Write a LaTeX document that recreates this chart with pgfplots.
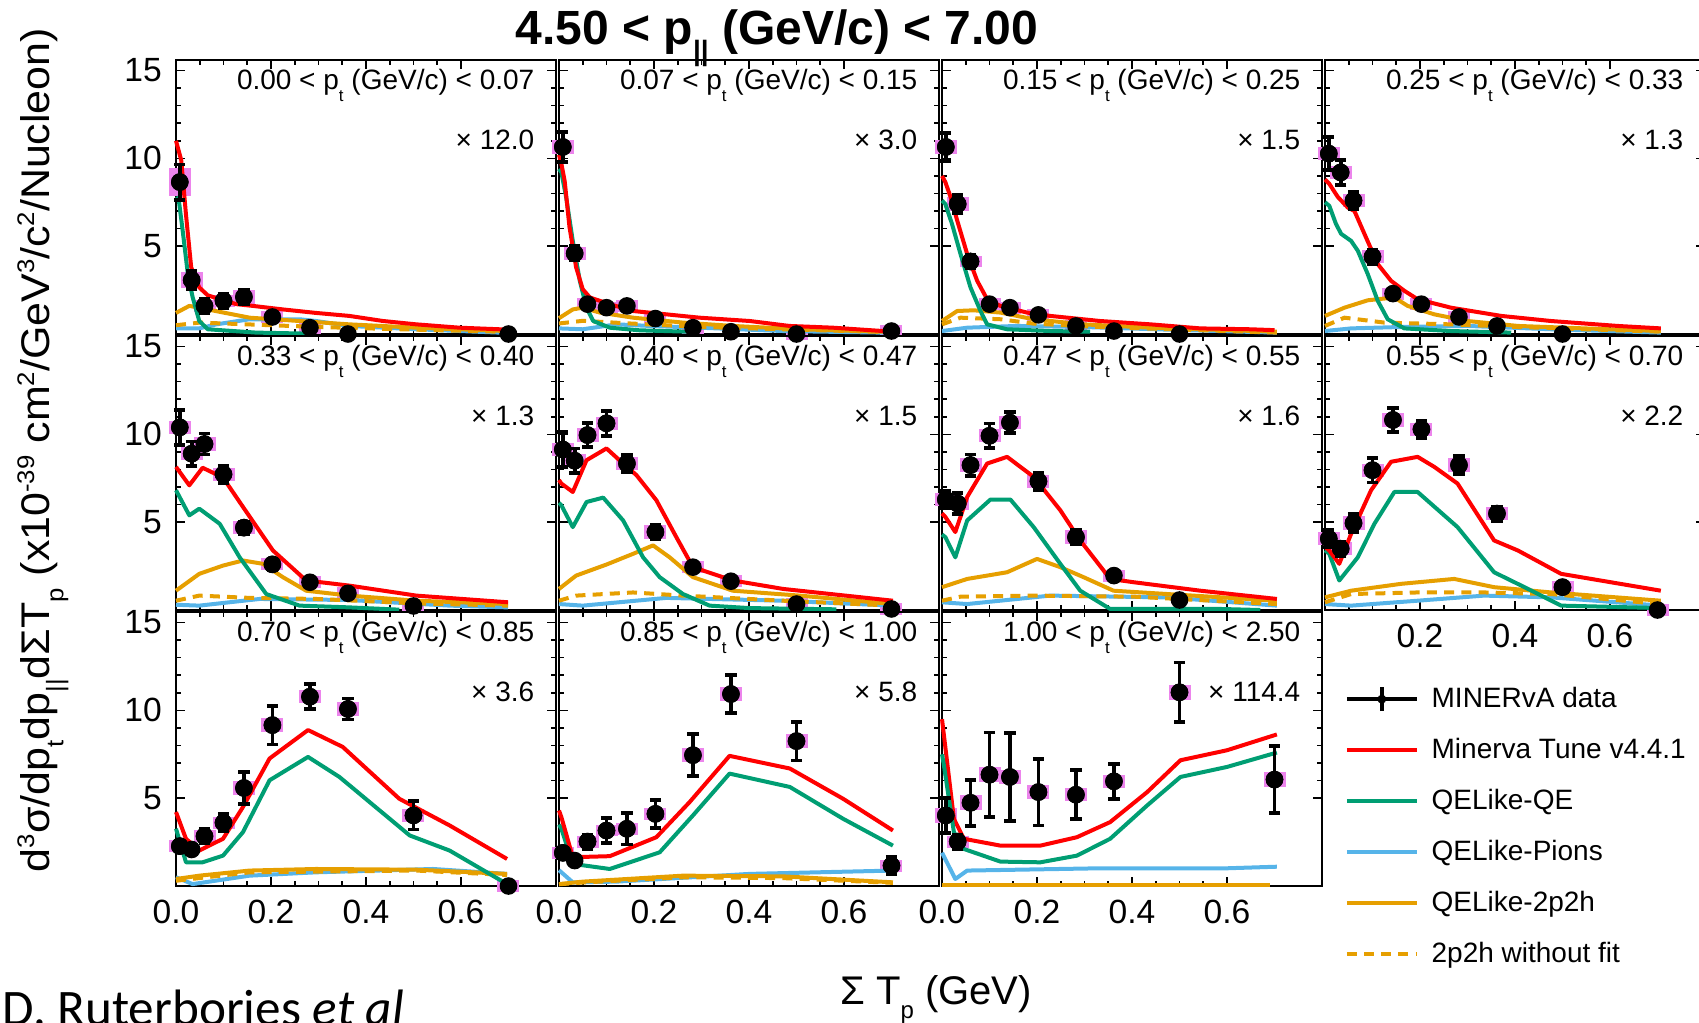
\documentclass[border=0pt]{standalone}
\usepackage{pgfplots}
\usepackage{pgfplotstable}
\pgfplotsset{compat=1.18}
\usepackage{fontspec}
\setmainfont{Liberation Sans}
\newfontfamily\carlito{Carlito}
\definecolor{cgreen}{RGB}{0,158,115}
\definecolor{cblue}{RGB}{86,180,233}
\definecolor{corange}{RGB}{230,159,0}
\definecolor{cred}{RGB}{255,0,0}
\definecolor{cpink}{RGB}{236,132,236}
\newcommand{\sub}[1]{\raisebox{-3pt}{\fontsize{4.2}{5}\selectfont #1}}
\newcommand{\sups}[1]{\raisebox{3.9pt}{\fontsize{6}{6}\selectfont #1}}
\newcommand{\subs}[1]{\raisebox{-3.4pt}{\fontsize{6}{6}\selectfont #1}}
\newcommand{\lbl}[2]{%
\node[anchor=base east,font=\fontsize{7}{8}\selectfont,inner sep=0pt] at (rel axis cs:0.945,0.894) {#1};
\node[anchor=base east,font=\fontsize{7}{8}\selectfont,inner sep=0pt] at (rel axis cs:0.945,0.672) {× #2};}
\newcommand{\dat}[1]{%
\addplot[errb] table[x=x,y=y,y error=e]{#1};
\addplot[dots] table[x=x,y=y]{#1};}

\pgfplotsset{
 mp/.style={scale only axis, width=95pt, height=68.5pt, xmin=0, xmax=0.8, ymin=0, ymax=15.6,
   anchor=south west, clip=false,
   xtick={0,0.2,0.4,0.6}, ytick={5,10,15}, minor x tick num=3, minor y tick num=4,
   xticklabels={}, yticklabels={},
   major tick length=2.3pt, minor tick length=1.2pt,
   every tick/.style={black, line width=0.4pt},
   axis line style={line width=0.55pt},
   tick label style={font=\fontsize{8.4}{9}\selectfont},
   legend image code/.code={\draw[##1] (0pt,0pt) -- (17.5pt,0pt);},
 },
 errb/.style={only marks, mark=none, black, forget plot,
   restrict expr to domain={\thisrow{e}}{0.25:100},
   error bars/y dir=both, error bars/y explicit,
   error bars/error bar style={line width=0.95pt, black},
   error bars/error mark options={rotate=90, line width=0.95pt, mark size=1.4pt, black}},
 dots/.style={only marks, mark=*, mark size=0.85pt, black, forget plot, mark options={line width=0.1pt, fill=black}},
 pnk/.style={only marks, mark=none, forget plot,
   error bars/y dir=both, error bars/y explicit,
   error bars/error bar style={line width=5.5pt, draw=cpink}, error bars/error mark=none},
 cr/.style={cred, line width=1pt, mark=none, line join=round},
 cg/.style={cgreen, line width=1pt, mark=none, line join=round},
 cb/.style={cblue, line width=1pt, mark=none, line join=round},
 co/.style={corange, line width=1pt, mark=none, line join=round},
 cod/.style={corange, line width=1pt, mark=none, dash pattern=on 2.5pt off 1.8pt},
}

\pgfplotstableread[row sep=\\]{x y e s\\ 0.008 8.65 1.0 0.78\\ 0.033 3.07 0.5 0.45\\ 0.060 1.6 0.4 0.35\\ 0.100 1.89 0.4 0.35\\ 0.143 2.11 0.4 0.38\\ 0.203 0.97 0.1 0.34\\ 0.282 0.36 0.05 0.34\\ 0.362 0.0 0.02 0\\ 0.70 0.0 0.02 0\\}\tA
\pgfplotstableread[row sep=\\]{x y e s\\ 0.008 10.65 0.85 0.38\\ 0.033 4.59 0.4 0.38\\ 0.060 1.7 0.1 0.34\\ 0.100 1.5 0.1 0.34\\ 0.143 1.6 0.1 0.34\\ 0.203 0.88 0.05 0.34\\ 0.282 0.36 0.05 0.34\\ 0.362 0.13 0.02 0\\ 0.50 0.0 0.02 0.34\\ 0.70 0.17 0.02 0.34\\}\tB
\pgfplotstableread[row sep=\\]{x y e s\\ 0.008 10.65 0.8 0.38\\ 0.033 7.4 0.5 0.38\\ 0.060 4.13 0.35 0.34\\ 0.100 1.7 0.1 0.34\\ 0.143 1.5 0.1 0.34\\ 0.203 1.09 0.1 0.34\\ 0.282 0.46 0.05 0.34\\ 0.362 0.17 0.02 0\\ 0.50 0.0 0.02 0\\}\tC
\pgfplotstableread[row sep=\\]{x y e s\\ 0.008 10.27 0.95 0.38\\ 0.033 9.2 0.7 0.38\\ 0.060 7.6 0.5 0.38\\ 0.100 4.4 0.4 0.38\\ 0.143 2.3 0.1 0.34\\ 0.203 1.7 0.1 0.34\\ 0.282 0.97 0.1 0.34\\ 0.362 0.46 0.05 0\\ 0.50 0.0 0.02 0\\}\tD
\pgfplotstableread[row sep=\\]{x y e s\\ 0.008 10.4 1.0 0.38\\ 0.033 8.9 0.7 0.38\\ 0.060 9.45 0.6 0.38\\ 0.100 7.73 0.5 0.38\\ 0.143 4.69 0.35 0.38\\ 0.203 2.6 0.3 0.34\\ 0.282 1.58 0.1 0.34\\ 0.362 0.95 0.1 0.34\\ 0.50 0.23 0.05 0.34\\}\tE
\pgfplotstableread[row sep=\\]{x y e s\\ 0.008 9.14 1.0 0.38\\ 0.033 8.5 0.7 0.38\\ 0.060 9.96 0.7 0.38\\ 0.100 10.63 0.7 0.38\\ 0.143 8.34 0.5 0.38\\ 0.203 4.44 0.4 0.38\\ 0.282 2.44 0.1 0.34\\ 0.362 1.64 0.1 0.34\\ 0.50 0.34 0.05 0.34\\ 0.70 0.06 0.05 0.34\\}\tF
\pgfplotstableread[row sep=\\]{x y e s\\ 0.008 6.29 0.5 0.38\\ 0.033 6.06 0.6 0.38\\ 0.060 8.25 0.6 0.38\\ 0.100 9.92 0.7 0.38\\ 0.143 10.67 0.6 0.38\\ 0.203 7.33 0.5 0.38\\ 0.282 4.15 0.4 0.38\\ 0.362 1.96 0.1 0.34\\ 0.50 0.57 0.05 0\\}\tG
\pgfplotstableread[row sep=\\]{x y e s\\ 0.008 4.06 0.5 0.38\\ 0.033 3.49 0.4 0.38\\ 0.060 4.95 0.5 0.38\\ 0.100 7.96 0.7 0.38\\ 0.143 10.82 0.7 0.38\\ 0.203 10.29 0.5 0.38\\ 0.282 8.25 0.5 0.38\\ 0.362 5.49 0.4 0.38\\ 0.50 1.3 0.3 0.34\\ 0.70 0.0 0.02 0.34\\}\tH
\pgfplotstableread[row sep=\\]{x y e s\\ 0.008 2.27 0.3 0.34\\ 0.033 2.08 0.1 0\\ 0.060 2.84 0.4 0.34\\ 0.100 3.6 0.5 0.34\\ 0.143 5.58 0.9 0.38\\ 0.203 9.16 1.1 0.38\\ 0.282 10.78 0.7 0.38\\ 0.362 10.08 0.6 0.38\\ 0.50 4.02 0.8 0.38\\ 0.70 0.0 0.02 0.34\\}\tI
\pgfplotstableread[row sep=\\]{x y e s\\ 0.008 1.89 0.3 0.34\\ 0.033 1.45 0.1 0\\ 0.060 2.53 0.4 0.34\\ 0.100 3.16 0.7 0.34\\ 0.143 3.26 0.9 0.34\\ 0.203 4.11 0.8 0.34\\ 0.282 7.45 1.2 0.38\\ 0.362 10.93 1.1 0.38\\ 0.50 8.25 1.1 0.38\\ 0.70 1.16 0.5 0.34\\}\tJ
\pgfplotstableread[row sep=\\]{x y e s\\ 0.008 4.02 1.0 0.42\\ 0.033 2.53 0.4 0.34\\ 0.060 4.74 1.3 0.42\\ 0.100 6.34 2.4 0.42\\ 0.143 6.21 2.5 0.42\\ 0.203 5.35 1.9 0.38\\ 0.282 5.2 1.4 0.38\\ 0.362 5.96 1.0 0.38\\ 0.50 11.03 1.7 0.42\\ 0.70 6.06 1.9 0.42\\}\tK

\begin{document}
\begin{tikzpicture}
\useasboundingbox (0,0) rectangle (424.75pt,255.5pt);
\clip (0,0) rectangle (424.75pt,255.5pt);

% ---------- Row 1 ----------
\begin{axis}[mp, at={(44pt,172pt)}, yticklabels={5,10,15}]
\addplot[pnk] table[x=x,y=y,y error=s]{\tA};
\addplot[cb] coordinates {(0,0.32)(0.049,0.32)(0.085,0.55)(0.155,0.84)(0.26,0.84)(0.295,0.74)(0.365,0.46)(0.506,0.27)(0.681,0.08)};
\addplot[cod] coordinates {(0,0.5)(0.05,0.65)(0.15,0.55)(0.3,0.4)(0.5,0.25)(0.7,0.12)};
\addplot[co] coordinates {(0,1.2)(0.028,1.6)(0.049,1.5)(0.085,1.3)(0.155,0.93)(0.26,0.74)(0.365,0.55)(0.506,0.36)(0.695,0.17)};
\addplot[cg] coordinates {(0,7.8)(0.006,7.6)(0.014,5.9)(0.025,3.4)(0.035,2.1)(0.049,0.74)(0.067,0.27)(0.12,0.17)(0.169,0.08)(0.281,0.02)};
\addplot[cr] coordinates {(0,11.0)(0.011,9.9)(0.021,6.8)(0.032,3.8)(0.049,2.65)(0.067,2.2)(0.127,1.7)(0.162,1.6)(0.225,1.4)(0.295,1.2)(0.365,1.03)(0.436,0.74)(0.506,0.55)(0.597,0.36)(0.70,0.25)};
\dat{\tA}
\lbl{0.00 < p\sub{t} (GeV/c) < 0.07}{12.0}
\end{axis}

\begin{axis}[mp, at={(139.75pt,172pt)}]
\addplot[pnk] table[x=x,y=y,y error=s]{\tB};
\addplot[cb] coordinates {(0,0.32)(0.05,0.27)(0.121,0.55)(0.191,0.46)(0.296,0.36)(0.472,0.17)(0.682,0.08)};
\addplot[cod] coordinates {(0,0.6)(0.05,0.75)(0.15,0.6)(0.3,0.4)(0.5,0.25)(0.68,0.12)};
\addplot[co] coordinates {(0,0.9)(0.029,1.4)(0.05,1.5)(0.086,1.22)(0.156,0.93)(0.261,0.65)(0.366,0.46)(0.507,0.27)(0.682,0.13)};
\addplot[cg] coordinates {(0,9.4)(0.005,9.2)(0.015,7.8)(0.029,5.3)(0.044,3.0)(0.058,1.5)(0.072,0.74)(0.107,0.36)(0.17,0.21)(0.275,0.13)};
\addplot[cr] coordinates {(0,10.2)(0.005,9.7)(0.012,8.7)(0.022,6.1)(0.036,3.8)(0.05,2.55)(0.065,2.08)(0.107,1.7)(0.156,1.31)(0.226,1.12)(0.296,0.93)(0.402,0.74)(0.485,0.46)(0.577,0.36)(0.682,0.17)};
\dat{\tB}
\lbl{0.07 < p\sub{t} (GeV/c) < 0.15}{3.0}
\end{axis}

\begin{axis}[mp, at={(235.5pt,172pt)}]
\addplot[pnk] table[x=x,y=y,y error=s]{\tC};
\addplot[cb] coordinates {(0,0.17)(0.053,0.36)(0.158,0.46)(0.298,0.4)(0.474,0.25)(0.705,0.08)};
\addplot[cod] coordinates {(0,0.55)(0.039,0.93)(0.123,0.84)(0.193,0.59)(0.333,0.4)(0.705,0.08)};
\addplot[co] coordinates {(0,0.74)(0.032,1.31)(0.067,1.35)(0.123,1.22)(0.193,0.84)(0.298,0.55)(0.439,0.36)(0.705,0.13)};
\addplot[cg] coordinates {(0,7.6)(0.007,7.4)(0.021,6.27)(0.039,4.55)(0.06,2.65)(0.081,1.31)(0.095,0.55)(0.137,0.27)(0.228,0.17)(0.312,0.13)};
\addplot[cr] coordinates {(0,9.0)(0.007,8.65)(0.018,7.8)(0.032,6.46)(0.053,4.55)(0.074,3.03)(0.095,1.98)(0.123,1.6)(0.179,1.22)(0.228,1.03)(0.333,0.74)(0.439,0.55)(0.544,0.32)(0.649,0.27)(0.70,0.22)};
\dat{\tC}
\lbl{0.15 < p\sub{t} (GeV/c) < 0.25}{1.5}
\end{axis}

\begin{axis}[mp, at={(331.25pt,172pt)}]
\addplot[pnk] table[x=x,y=y,y error=s]{\tD};
\addplot[cb] coordinates {(0,0.17)(0.055,0.32)(0.16,0.4)(0.3,0.46)(0.476,0.27)(0.707,0.08)};
\addplot[cod] coordinates {(0,0.46)(0.041,0.93)(0.125,0.65)(0.265,0.55)(0.406,0.4)(0.707,0.13)};
\addplot[co] coordinates {(0,1.03)(0.041,1.5)(0.09,1.92)(0.146,2.08)(0.174,1.6)(0.23,1.12)(0.3,0.74)(0.406,0.46)(0.546,0.32)(0.707,0.17)};
\addplot[cg] coordinates {(0,7.5)(0.009,7.3)(0.023,6.27)(0.034,5.7)(0.055,5.3)(0.069,4.74)(0.09,3.41)(0.111,1.89)(0.132,0.84)(0.167,0.32)(0.265,0.17)(0.392,0.08)};
\addplot[cr] coordinates {(0,8.8)(0.009,8.55)(0.027,7.8)(0.048,7.2)(0.062,7.0)(0.083,5.7)(0.111,3.98)(0.139,3.03)(0.167,2.46)(0.195,1.98)(0.265,1.5)(0.371,1.03)(0.476,0.74)(0.616,0.46)(0.707,0.32)};
\dat{\tD}
\lbl{0.25 < p\sub{t} (GeV/c) < 0.33}{1.3}
\end{axis}

% ---------- Row 2 ----------
\begin{axis}[mp, at={(44pt,103pt)}, yticklabels={5,10,15}]
\addplot[pnk] table[x=x,y=y,y error=s]{\tE};
\addplot[cb] coordinates {(0,0.3)(0.049,0.25)(0.176,0.63)(0.365,0.57)(0.576,0.25)(0.699,0.15)};
\addplot[cod] coordinates {(0,0.53)(0.049,0.82)(0.155,0.69)(0.295,0.63)(0.506,0.38)(0.699,0.25)};
\addplot[co] coordinates {(0,1.1)(0.049,2.06)(0.099,2.53)(0.141,2.82)(0.183,2.63)(0.225,1.87)(0.274,1.1)(0.365,0.82)(0.506,0.53)(0.699,0.34)};
\addplot[cg] coordinates {(0,6.82)(0.028,5.39)(0.049,5.77)(0.092,4.91)(0.134,3.0)(0.19,0.91)(0.26,0.25)(0.365,0.15)(0.47,0.02)};
\addplot[cr] coordinates {(0,8.15)(0.028,7.1)(0.056,8.1)(0.099,7.54)(0.141,5.87)(0.204,3.39)(0.274,1.68)(0.365,1.39)(0.506,0.82)(0.699,0.44)};
\dat{\tE}
\lbl{0.33 < p\sub{t} (GeV/c) < 0.40}{1.3}
\end{axis}

\begin{axis}[mp, at={(139.75pt,103pt)}]
\addplot[pnk] table[x=x,y=y,y error=s]{\tF};
\addplot[cb] coordinates {(0,0.34)(0.05,0.25)(0.226,0.69)(0.472,0.53)(0.703,0.25)};
\addplot[cod] coordinates {(0,0.53)(0.036,0.82)(0.156,1.0)(0.261,0.82)(0.472,0.53)(0.703,0.25)};
\addplot[co] coordinates {(0,1.2)(0.036,1.96)(0.1,2.59)(0.156,3.2)(0.198,3.68)(0.233,3.0)(0.282,1.87)(0.366,1.1)(0.507,0.82)(0.703,0.34)};
\addplot[cg] coordinates {(0,6.1)(0.005,5.96)(0.029,4.72)(0.058,6.15)(0.093,6.4)(0.135,5.1)(0.177,3.0)(0.212,1.87)(0.261,0.91)(0.317,0.25)(0.401,0.11)(0.584,0.04)};
\addplot[cr] coordinates {(0,7.4)(0.005,7.2)(0.029,6.72)(0.058,8.53)(0.1,9.2)(0.135,8.34)(0.163,7.68)(0.205,6.25)(0.247,4.15)(0.282,2.44)(0.366,1.68)(0.472,1.2)(0.703,0.53)};
\dat{\tF}
\lbl{0.40 < p\sub{t} (GeV/c) < 0.47}{1.5}
\end{axis}

\begin{axis}[mp, at={(235.5pt,103pt)}]
\addplot[pnk] table[x=x,y=y,y error=s]{\tG};
\addplot[cb] coordinates {(0,0.44)(0.053,0.34)(0.228,0.82)(0.474,0.72)(0.705,0.25)};
\addplot[cod] coordinates {(0,0.53)(0.039,0.76)(0.193,0.82)(0.404,0.76)(0.705,0.34)};
\addplot[co] coordinates {(0,1.3)(0.053,1.77)(0.137,2.15)(0.2,2.91)(0.249,2.44)(0.298,1.87)(0.361,1.1)(0.474,0.91)(0.705,0.53)};
\addplot[cg] coordinates {(0,4.3)(0.007,4.15)(0.028,3.0)(0.053,5.1)(0.102,6.29)(0.144,6.29)(0.193,4.72)(0.249,2.63)(0.291,1.1)(0.354,0.06)(0.586,0.06)(0.67,0.0)};
\addplot[cr] coordinates {(0,5.5)(0.007,5.3)(0.028,4.44)(0.053,6.44)(0.095,8.34)(0.137,8.72)(0.193,7.58)(0.249,5.68)(0.291,3.96)(0.354,1.77)(0.404,1.58)(0.544,1.1)(0.705,0.63)};
\dat{\tG}
\lbl{0.47 < p\sub{t} (GeV/c) < 0.55}{1.6}
\end{axis}

\begin{axis}[mp, at={(331.25pt,103pt)}, xticklabels={{},0.2,0.4,0.6}]
\addplot[pnk] table[x=x,y=y,y error=s]{\tH};
\addplot[cb] coordinates {(0,0.34)(0.055,0.25)(0.195,0.53)(0.335,0.82)(0.476,0.72)(0.707,0.25)};
\addplot[cod] coordinates {(0,0.44)(0.055,0.91)(0.195,1.0)(0.335,1.0)(0.476,0.91)(0.707,0.34)};
\addplot[co] coordinates {(0,0.72)(0.055,1.1)(0.16,1.49)(0.272,1.77)(0.356,1.3)(0.476,1.0)(0.707,0.53)};
\addplot[cg] coordinates {(0,3.4)(0.009,3.2)(0.03,1.68)(0.069,3.0)(0.104,4.91)(0.146,6.72)(0.195,6.72)(0.279,4.72)(0.356,2.15)(0.42,1.3)(0.497,0.25)(0.707,0.11)};
\addplot[cr] coordinates {(0,3.6)(0.009,3.39)(0.03,2.63)(0.055,4.34)(0.097,6.82)(0.139,8.44)(0.195,8.72)(0.23,8.15)(0.279,7.2)(0.356,3.96)(0.406,3.39)(0.497,2.06)(0.707,1.1)};
\dat{\tH}
\lbl{0.55 < p\sub{t} (GeV/c) < 0.70}{2.2}
\end{axis}

% ---------- Row 3 ----------
\begin{axis}[mp, at={(44pt,34pt)}, yticklabels={5,10,15}, xticklabels={0.0,0.2,0.4,0.6}]
\addplot[pnk] table[x=x,y=y,y error=s]{\tI};
\addplot[cb] coordinates {(0,0.5)(0.035,0.11)(0.155,0.59)(0.295,0.78)(0.541,0.97)(0.697,0.69)};
\addplot[cod] coordinates {(0,0.3)(0.155,0.78)(0.506,0.88)(0.697,0.63)};
\addplot[co] coordinates {(0,0.4)(0.049,0.59)(0.155,0.88)(0.295,0.97)(0.506,0.93)(0.697,0.69)};
\addplot[cg] coordinates {(0,3.26)(0.021,1.35)(0.056,1.35)(0.099,1.73)(0.141,3.07)(0.197,6.02)(0.278,7.35)(0.344,6.21)(0.492,2.88)(0.576,2.02)(0.697,0.11)};
\addplot[cr] coordinates {(0,4.21)(0.021,2.69)(0.049,2.02)(0.099,2.69)(0.141,4.5)(0.197,7.26)(0.278,8.88)(0.351,7.92)(0.47,4.97)(0.576,3.45)(0.697,1.54)};
\dat{\tI}
\lbl{0.70 < p\sub{t} (GeV/c) < 0.85}{3.6}
\end{axis}

\begin{axis}[mp, at={(139.75pt,34pt)}, xticklabels={0.0,0.2,0.4,0.6}]
\addplot[pnk] table[x=x,y=y,y error=s]{\tJ};
\addplot[cb] coordinates {(0,0.9)(0.029,0.21)(0.121,0.25)(0.401,0.69)(0.703,0.88)};
\addplot[cod] coordinates {(0,0.1)(0.05,0.2)(0.261,0.5)(0.472,0.45)(0.703,0.18)};
\addplot[co] coordinates {(0,0.11)(0.05,0.25)(0.261,0.59)(0.472,0.55)(0.703,0.21)};
\addplot[cg] coordinates {(0,3.5)(0.005,3.26)(0.029,1.26)(0.107,0.97)(0.212,1.92)(0.282,4.02)(0.359,6.4)(0.486,5.64)(0.598,3.83)(0.703,2.3)};
\addplot[cr] coordinates {(0,4.3)(0.005,3.92)(0.029,1.64)(0.107,1.7)(0.205,2.78)(0.275,4.78)(0.359,7.41)(0.486,6.69)(0.598,4.97)(0.703,3.16)};
\dat{\tJ}
\lbl{0.85 < p\sub{t} (GeV/c) < 1.00}{5.8}
\end{axis}

\begin{axis}[mp, at={(235.5pt,34pt)}, xticklabels={0.0,0.2,0.4,0.6},
  legend cell align=left,
  legend style={at={(axis description cs:1.058,0.736)}, anchor=north west, draw=none, fill=none,
    inner sep=0pt, row sep=5.75pt, column sep=3.2pt, font=\fontsize{7}{8}\selectfont,
    nodes={inner sep=0pt, text height=5.5pt, text depth=1.5pt}}]
\addplot[pnk] table[x=x,y=y,y error=s]{\tK};
\addlegendimage{legend image code/.code={\draw[black,line width=0.9pt] (0pt,0pt) -- (17.5pt,0pt); \draw[black,line width=0.9pt] (8.75pt,-3pt) -- (8.75pt,3pt); \fill[black] (8.75pt,0pt) circle (0.9pt);}}
\addlegendentry{MINERvA data}
\addplot[cr] coordinates {(0,9.5)(0.004,8.59)(0.025,3.83)(0.046,2.69)(0.123,2.3)(0.207,2.3)(0.284,2.78)(0.354,3.64)(0.432,5.35)(0.502,7.16)(0.6,7.73)(0.705,8.63)};
\addlegendentry{Minerva Tune v4.4.1}
\addplot[cg] coordinates {(0,7.5)(0.004,6.88)(0.025,3.07)(0.046,2.11)(0.123,1.39)(0.207,1.35)(0.284,1.73)(0.354,2.69)(0.432,4.59)(0.502,6.21)(0.6,6.78)(0.705,7.6)};
\addlegendentry{QELike-QE}
\addplot[cb] coordinates {(0,1.9)(0.028,0.4)(0.053,0.88)(0.333,1.01)(0.6,1.01)(0.705,1.1)};
\addlegendentry{QELike-Pions}
\addplot[co] coordinates {(0,0.05)(0.69,0.05)};
\addlegendentry{QELike-2p2h}
\addplot[cod] coordinates {(0.04,0.05)(0.43,0.05)};
\addlegendentry{2p2h without fit}
\dat{\tK}
\lbl{1.00 < p\sub{t} (GeV/c) < 2.50}{114.4}
\end{axis}

% ---------- titles ----------
\node[font=\bfseries\fontsize{12}{14}\selectfont, inner sep=0pt] at (194.25pt,246pt) {4.50 < p\raisebox{-4pt}{\fontsize{7}{8}\selectfont ||} (GeV/c) < 7.00};
\node[rotate=90, inner sep=0pt, font=\fontsize{10}{11}\selectfont] at (10.75pt,143pt) {\resizebox{211pt}{\height}{d\sups{3}σ/dp\subs{t}dp\subs{||}dΣT\subs{p} (x10\sups{-39} cm\sups{2}/GeV\sups{3}/c\sups{2}/Nucleon)}};
\node[font=\fontsize{10}{12}\selectfont, inner sep=0pt] at (234pt,5.6pt) {Σ T\subs{p} (GeV)};
\node[anchor=base west, font=\carlito\fontsize{12.8}{14}\selectfont, inner sep=0pt] at (0.5pt,-0.75pt) {D. Ruterbories \textit{et al}};
\end{tikzpicture}
\end{document}
